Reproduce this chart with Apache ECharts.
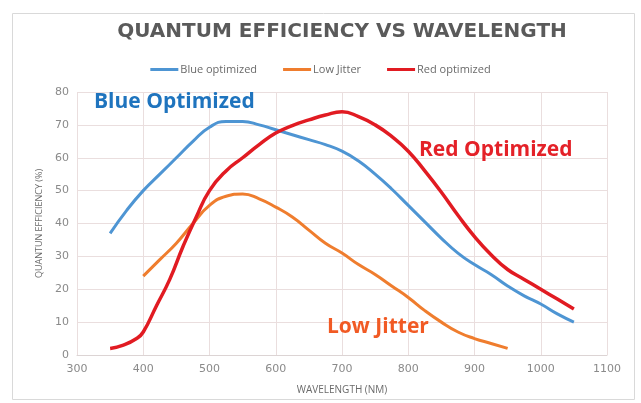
<!DOCTYPE html>
<html>
<head>
<meta charset="utf-8">
<script src="https://cdn.jsdelivr.net/npm/echarts@6/dist/echarts.min.js"></script>
<style>
  html, body { margin: 0; padding: 0; background: #fff; }
  #main { width: 641px; height: 403px; }
</style>
</head>
<body>
<div id="main"></div>
<script>
// wavelength (nm), QE (%)
const blueOptimized = [
  [350, 37], [375, 44], [400, 50], [425, 55], [450, 60], [475, 65], [500, 69.3],
  [525, 71], [550, 71], [575, 70], [600, 68.5], [625, 67], [650, 65.5],
  [675, 64], [700, 62], [725, 59], [750, 55], [775, 50.5], [800, 45.5],
  [825, 40.5], [850, 35.5], [875, 31], [900, 27.5], [925, 24.5], [950, 21],
  [975, 18], [1000, 15.5], [1025, 12.5], [1050, 10]
];
const lowJitter = [
  [400, 24], [425, 29], [450, 34], [475, 40], [500, 45.5], [525, 48.3],
  [550, 49], [575, 47.5], [600, 45], [625, 42], [650, 38], [675, 34],
  [700, 31], [725, 27.5], [750, 24.5], [775, 21], [800, 17.5], [825, 13.5],
  [850, 10], [875, 7], [900, 5], [925, 3.5], [950, 2]
];
const redOptimized = [
  [350, 2], [370, 3], [390, 5], [400, 7], [420, 15], [440, 23], [460, 33],
  [480, 42], [500, 50], [525, 56], [550, 60], [575, 64], [600, 67.5],
  [625, 69.8], [650, 71.5], [675, 73], [700, 74], [725, 72.5], [750, 70],
  [775, 66.5], [800, 62], [825, 56], [850, 49.5], [875, 42.5], [900, 36],
  [925, 30.5], [950, 26], [975, 23], [1000, 20], [1025, 17], [1050, 14]
];
const seriesNames = ['Blue optimized', 'Low Jitter', 'Red optimized'];

const chart = echarts.init(document.getElementById('main'));
const gridColor = '#eadede';
const labelColor = '#8a8a8a';

chart.setOption({
  animation: false,
  title: {
    text: 'QUANTUM EFFICIENCY VS WAVELENGTH',
    left: 337,
    textAlign: 'center',
    top: 17,
    textStyle: { fontFamily: 'DejaVu Sans', fontWeight: 'bold', fontSize: 20, color: '#5a5a5a' }
  },
  legend: {
    data: seriesNames,
    top: 59,
    left: 'center',
    icon: 'rect',
    itemWidth: 28,
    itemHeight: 3,
    itemGap: 26,
    textStyle: { fontFamily: 'Open Sans', fontSize: 11, color: '#6a6a6a', padding: [0, 0, 0, -3] }
  },
  grid: { left: 77, right: 34, top: 92, bottom: 48 },
  xAxis: {
    type: 'value',
    min: 300,
    max: 1100,
    interval: 100,
    name: 'WAVELENGTH (NM)',
    nameLocation: 'middle',
    nameGap: 30,
    nameTextStyle: { fontFamily: 'Open Sans', fontSize: 10, color: '#6a6a6a' },
    axisLine: { lineStyle: { color: '#dcd4d4' } },
    axisTick: { show: false },
    axisLabel: { fontFamily: 'DejaVu Sans', fontSize: 11, color: labelColor, margin: 9, formatter: v => String(v) },
    splitLine: { show: true, lineStyle: { color: gridColor } }
  },
  yAxis: {
    type: 'value',
    min: 0,
    max: 80,
    interval: 10,
    name: 'QUANTUN EFFICIENCY (%)',
    nameLocation: 'middle',
    nameGap: 30,
    nameTextStyle: { fontFamily: 'Open Sans', fontSize: 9, color: '#6a6a6a' },
    axisLine: { show: false },
    axisTick: { show: false },
    axisLabel: { fontFamily: 'DejaVu Sans', fontSize: 11, color: labelColor, margin: 8 },
    splitLine: { show: true, lineStyle: { color: gridColor } }
  },
  graphic: [
    { type: 'rect', shape: { x: 12.5, y: 13.5, width: 622, height: 386 }, style: { fill: 'none', stroke: '#d9d9d9', lineWidth: 1 }, z: -1 },
    { type: 'text', left: 94, top: 92, z: 100, style: { text: 'Blue Optimized', fontFamily: 'Open Sans', fontWeight: 'bold', fontSize: 21, fill: '#1f74be' } },
    { type: 'text', left: 419, top: 140, z: 100, style: { text: 'Red Optimized', fontFamily: 'Open Sans', fontWeight: 'bold', fontSize: 21, fill: '#e42128' } },
    { type: 'text', left: 327, top: 317, z: 100, style: { text: 'Low Jitter', fontFamily: 'Open Sans', fontWeight: 'bold', fontSize: 21, fill: '#f15a24' } }
  ],
  series: [
    { name: seriesNames[0], type: 'line', data: blueOptimized, smooth: 0.5, showSymbol: false,
      lineStyle: { color: '#4e95d3', width: 3 }, itemStyle: { color: '#4e95d3' } },
    { name: seriesNames[1], type: 'line', data: lowJitter, smooth: 0.5, showSymbol: false,
      lineStyle: { color: '#ef7d2e', width: 3 }, itemStyle: { color: '#ef7d2e' } },
    { name: seriesNames[2], type: 'line', data: redOptimized, smooth: 0.5, showSymbol: false,
      lineStyle: { color: '#e11b22', width: 3.5 }, itemStyle: { color: '#e11b22' } }
  ]
});
</script>
</body>
</html>
